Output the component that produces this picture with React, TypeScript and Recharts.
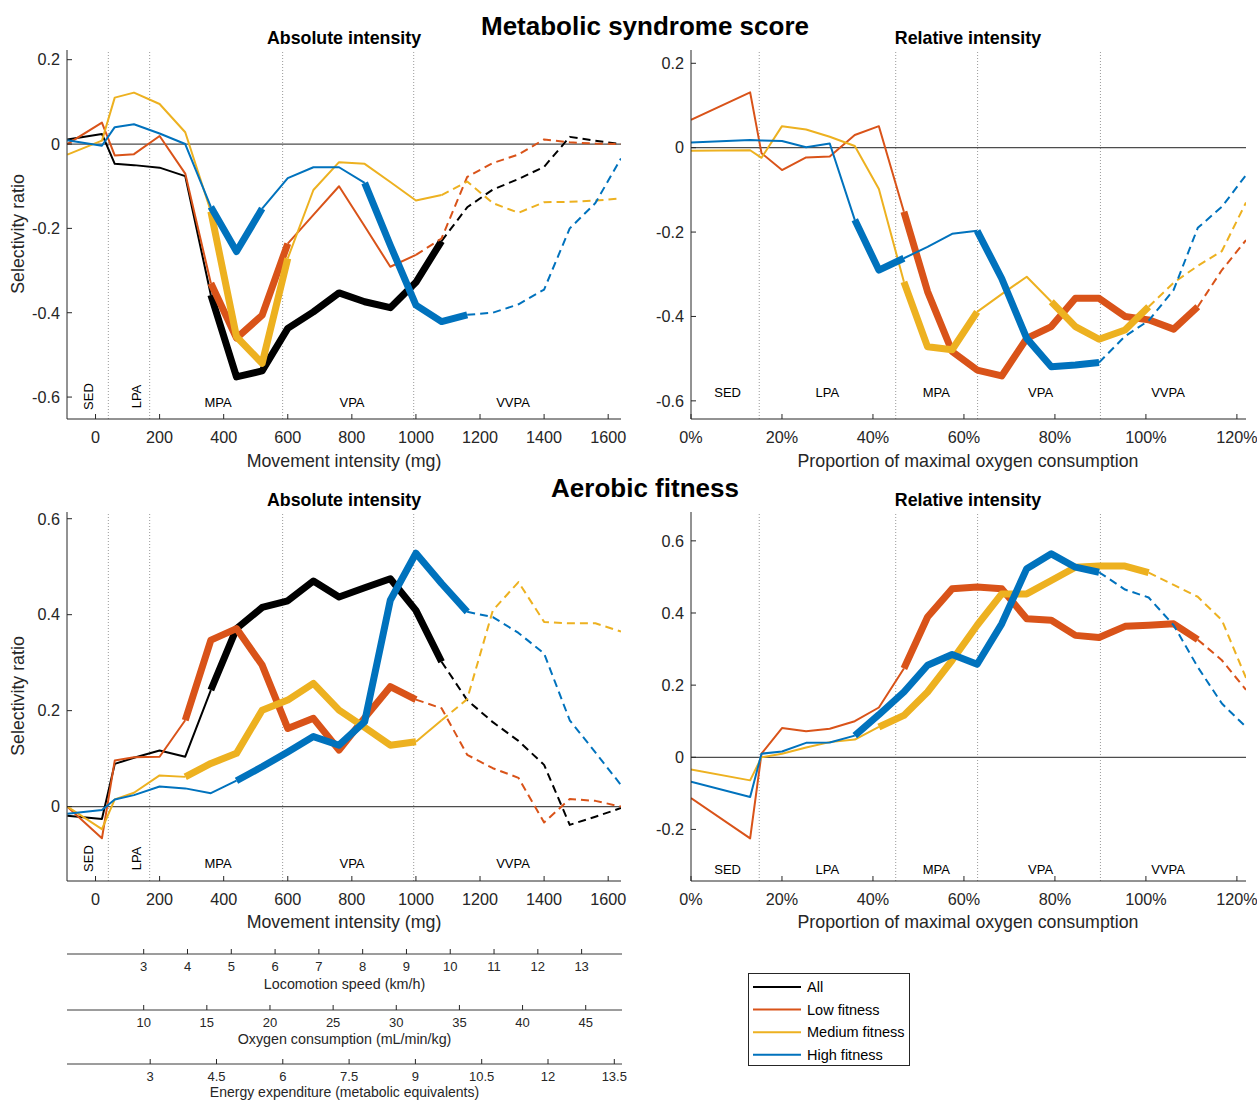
import React from 'react';
import { LineChart, Line, XAxis, YAxis, ReferenceLine } from 'recharts';

const FONT = '"Liberation Sans", Arial, Helvetica, sans-serif';
const AX = '#262626';
const C_ALL = '#000000';
const C_LOW = '#D95319';
const C_MED = '#EDB120';
const C_HIGH = '#0072BD';

// ---------- x grids ----------
const X_ABS = [-88, 20, 60, 120, 200, 280, 360, 440, 520, 600, 680, 760, 840, 920, 1000, 1080, 1160, 1240, 1320, 1400, 1480, 1560, 1640];
const X_REL = [0, 13, 15.5, 20, 25.3, 30.5, 36, 41.3, 46.8, 52, 57.4, 62.9, 68.3, 73.8, 79.2, 84.5, 89.7, 95.4, 100.6, 106.1, 111.4, 116.7, 122];

// ---------- Metabolic syndrome score, absolute ----------
const METS_ABS_ALL = [0.011, 0.024, -0.047, -0.05, -0.056, -0.076, -0.358, -0.552, -0.538, -0.437, -0.398, -0.353, -0.374, -0.388, -0.328, -0.23, -0.15, -0.108, -0.083, -0.054, 0.017, 0.008, 0.0];
const METS_ABS_LOW = [0.0, 0.051, -0.027, -0.024, 0.019, -0.07, -0.33, -0.46, -0.406, -0.236, -0.168, -0.1, -0.195, -0.291, -0.263, -0.224, -0.078, -0.045, -0.025, 0.011, 0.004, 0.001, 0.0];
const METS_ABS_MED = [-0.025, 0.008, 0.11, 0.122, 0.095, 0.028, -0.16, -0.457, -0.52, -0.271, -0.109, -0.043, -0.047, -0.09, -0.134, -0.121, -0.089, -0.14, -0.163, -0.138, -0.137, -0.134, -0.129];
const METS_ABS_HIGH = [0.009, -0.004, 0.04, 0.047, 0.025, 0.0, -0.149, -0.255, -0.153, -0.081, -0.055, -0.055, -0.092, -0.24, -0.382, -0.421, -0.405, -0.4, -0.38, -0.345, -0.2, -0.14, -0.034];

// ---------- Metabolic syndrome score, relative ----------
const METS_REL_LOW = [0.066, 0.131, -0.013, -0.053, -0.023, -0.021, 0.03, 0.051, -0.152, -0.341, -0.483, -0.527, -0.541, -0.452, -0.424, -0.357, -0.357, -0.4, -0.408, -0.43, -0.377, -0.29, -0.219];
const METS_REL_MED = [-0.007, -0.006, -0.024, 0.051, 0.043, 0.026, 0.004, -0.098, -0.318, -0.472, -0.479, -0.389, -0.347, -0.306, -0.365, -0.424, -0.454, -0.432, -0.377, -0.32, -0.28, -0.245, -0.13];
const METS_REL_HIGH = [0.012, 0.018, 0.017, 0.016, 0.001, 0.01, -0.171, -0.29, -0.262, -0.235, -0.204, -0.197, -0.31, -0.452, -0.519, -0.515, -0.509, -0.447, -0.41, -0.337, -0.19, -0.14, -0.065];

// ---------- Aerobic fitness, absolute ----------
const FIT_ABS_ALL = [-0.019, -0.026, 0.089, 0.102, 0.117, 0.104, 0.243, 0.371, 0.415, 0.429, 0.47, 0.437, 0.456, 0.475, 0.409, 0.302, 0.222, 0.176, 0.137, 0.087, -0.038, -0.021, -0.003];
const FIT_ABS_LOW = [0.0, -0.066, 0.096, 0.103, 0.104, 0.18, 0.347, 0.371, 0.295, 0.163, 0.184, 0.118, 0.185, 0.25, 0.223, 0.205, 0.108, 0.08, 0.06, -0.033, 0.016, 0.012, 0.0];
const FIT_ABS_MED = [0.0, -0.047, 0.015, 0.029, 0.065, 0.062, 0.09, 0.111, 0.201, 0.222, 0.257, 0.201, 0.165, 0.128, 0.135, 0.18, 0.224, 0.409, 0.468, 0.385, 0.382, 0.382, 0.365];
const FIT_ABS_HIGH = [-0.015, -0.007, 0.015, 0.024, 0.042, 0.038, 0.028, 0.054, 0.083, 0.114, 0.146, 0.128, 0.177, 0.43, 0.528, 0.465, 0.406, 0.395, 0.362, 0.319, 0.18, 0.113, 0.045];

// ---------- Aerobic fitness, relative ----------
const FIT_REL_LOW = [-0.113, -0.225, 0.01, 0.081, 0.072, 0.079, 0.1, 0.138, 0.246, 0.389, 0.467, 0.472, 0.467, 0.384, 0.38, 0.338, 0.332, 0.363, 0.366, 0.37, 0.326, 0.269, 0.187];
const FIT_REL_MED = [-0.034, -0.064, 0.0, 0.01, 0.027, 0.042, 0.049, 0.084, 0.116, 0.181, 0.269, 0.366, 0.453, 0.453, 0.49, 0.527, 0.53, 0.53, 0.512, 0.478, 0.445, 0.38, 0.22];
const FIT_REL_HIGH = [-0.068, -0.11, 0.01, 0.016, 0.04, 0.041, 0.06, 0.118, 0.181, 0.255, 0.285, 0.258, 0.37, 0.523, 0.564, 0.527, 0.513, 0.465, 0.443, 0.366, 0.25, 0.149, 0.084];

// ---------- ticks, cutpoints, labels ----------
const ABS_X_TICKS = [0, 200, 400, 600, 800, 1000, 1200, 1400, 1600];
const REL_X_TICKS = [0, 20, 40, 60, 80, 100, 120];
const METS_Y_TICKS = [-0.6, -0.4, -0.2, 0, 0.2];
const FIT_ABS_Y_TICKS = [0, 0.2, 0.4, 0.6];
const FIT_REL_Y_TICKS = [-0.2, 0, 0.2, 0.4, 0.6];
const ABS_CUTS = [40, 169, 584, 993];
const REL_CUTS = [15, 45, 63, 90];
const REGIONS = ['SED', 'LPA', 'MPA', 'VPA', 'VVPA'];
const SPEED_TICKS = [3, 4, 5, 6, 7, 8, 9, 10, 11, 12, 13];
const VO2_TICKS = [10, 15, 20, 25, 30, 35, 40, 45];
const MET_TICKS = [3, 4.5, 6, 7.5, 9, 10.5, 12, 13.5];
const LEGEND_LABELS = ['All', 'Low fitness', 'Medium fitness', 'High fitness'];
const LEGEND_COLORS = [C_ALL, C_LOW, C_MED, C_HIGH];

// ---------- segment styles (index ranges) ----------
type Kind = 'thin' | 'thick' | 'dash';
type Run = [Kind, number, number];
const R_METS_ABS_ALL: Run[] = [['thin', 0, 6], ['thick', 6, 15], ['dash', 15, 22]];
const R_METS_ABS_LOW: Run[] = [['thin', 0, 6], ['thick', 6, 9], ['thin', 9, 14], ['dash', 14, 22]];
const R_METS_ABS_MED: Run[] = [['thin', 0, 6], ['thick', 6, 9], ['thin', 9, 15], ['dash', 15, 22]];
const R_METS_ABS_HIGH: Run[] = [['thin', 0, 6], ['thick', 6, 8], ['thin', 8, 12], ['thick', 12, 16], ['dash', 16, 22]];
const R_METS_REL_LOW: Run[] = [['thin', 0, 8], ['thick', 8, 20], ['dash', 20, 22]];
const R_METS_REL_MED: Run[] = [['thin', 0, 8], ['thick', 8, 11], ['thin', 11, 14], ['thick', 14, 18], ['dash', 18, 22]];
const R_METS_REL_HIGH: Run[] = [['thin', 0, 6], ['thick', 6, 8], ['thin', 8, 11], ['thick', 11, 16], ['dash', 16, 22]];
const R_FIT_ABS_ALL: Run[] = [['thin', 0, 6], ['thick', 6, 15], ['dash', 15, 22]];
const R_FIT_ABS_LOW: Run[] = [['thin', 0, 5], ['thick', 5, 14], ['dash', 14, 22]];
const R_FIT_ABS_MED: Run[] = [['thin', 0, 5], ['thick', 5, 14], ['thin', 14, 15], ['dash', 15, 22]];
const R_FIT_ABS_HIGH: Run[] = [['thin', 0, 7], ['thick', 7, 16], ['dash', 16, 22]];
const R_FIT_REL_LOW: Run[] = [['thin', 0, 8], ['thick', 8, 20], ['dash', 20, 22]];
const R_FIT_REL_MED: Run[] = [['thin', 0, 7], ['thick', 7, 18], ['dash', 18, 22]];
const R_FIT_REL_HIGH: Run[] = [['thin', 0, 6], ['thick', 6, 16], ['dash', 16, 22]];

interface Series { key: string; color: string; values: number[]; runs: Run[] }

function buildRows(xs: number[], series: Series[]) {
  return xs.map((x, i) => {
    const row: Record<string, number | null> = { x };
    series.forEach((s) => {
      s.runs.forEach((r, j) => {
        row[`${s.key}_${j}`] = i >= r[1] && i <= r[2] ? s.values[i] : null;
      });
    });
    return row;
  });
}

const fmtY = (v: number) => (Math.abs(v) < 1e-9 ? '0' : v.toFixed(1));
const fmtAbs = (v: number) => String(v);
const fmtRel = (v: number) => `${v}%`;

const XTick = (props: any) => {
  const { x, y, payload, fmt } = props;
  return (
    <g>
      <line x1={x} x2={x} y1={y} y2={y - 5} stroke={AX} strokeWidth={1} />
      <text x={x} y={y + 24} textAnchor="middle" fontSize={16.2} fontFamily={FONT} fill={AX}>
        {fmt(payload.value)}
      </text>
    </g>
  );
};

const YTick = (props: any) => {
  const { x, y, payload } = props;
  return (
    <g>
      <line x1={x} x2={x + 5} y1={y} y2={y} stroke={AX} strokeWidth={1} />
      <text x={x - 7} y={y + 5.8} textAnchor="end" fontSize={16.2} fontFamily={FONT} fill={AX}>
        {fmtY(payload.value)}
      </text>
    </g>
  );
};

interface PanelCfg {
  left: number; top: number; width: number; height: number;
  pl: number; pr: number; pt: number; pb: number;
  xDomain: [number, number]; yDomain: [number, number];
  xTicks: number[]; yTicks: number[]; xFmt: (v: number) => string;
  cuts: number[]; xs: number[]; series: Series[];
}

function Panel({ cfg }: { cfg: PanelCfg }) {
  const YW = 60;
  const XH = 30;
  const rows = buildRows(cfg.xs, cfg.series);
  const margin = {
    top: cfg.pt - cfg.top,
    left: cfg.pl - cfg.left - YW,
    right: cfg.left + cfg.width - cfg.pr,
    bottom: cfg.top + cfg.height - cfg.pb - XH,
  };
  const lines: React.ReactNode[] = [];
  cfg.series.forEach((s) => {
    s.runs.forEach((r, j) => {
      const kind = r[0];
      lines.push(
        <Line
          key={`${s.key}_${j}`}
          dataKey={`${s.key}_${j}`}
          type="linear"
          stroke={s.color}
          strokeWidth={kind === 'thick' ? 7 : 2}
          strokeDasharray={kind === 'dash' ? '8 5' : undefined}
          strokeLinejoin="round"
          strokeLinecap="butt"
          dot={false}
          activeDot={false}
          connectNulls={false}
          isAnimationActive={false}
        />
      );
    });
  });
  return (
    <div style={{ position: 'absolute', left: cfg.left, top: cfg.top, width: cfg.width, height: cfg.height }}>
      <LineChart width={cfg.width} height={cfg.height} data={rows} margin={margin}>
        <XAxis
          dataKey="x"
          type="number"
          domain={cfg.xDomain}
          allowDataOverflow
          ticks={cfg.xTicks}
          interval={0}
          height={XH}
          tickSize={0}
          tickMargin={0}
          tickLine={false}
          axisLine={{ stroke: AX, strokeWidth: 1 }}
          tick={(p: any) => <XTick {...p} fmt={cfg.xFmt} />}
        />
        <YAxis
          type="number"
          domain={cfg.yDomain}
          allowDataOverflow
          ticks={cfg.yTicks}
          interval={0}
          width={YW}
          tickSize={0}
          tickMargin={0}
          tickLine={false}
          axisLine={{ stroke: AX, strokeWidth: 1 }}
          tick={(p: any) => <YTick {...p} />}
        />
        {cfg.cuts.map((c) => (
          <ReferenceLine key={`cut${c}`} x={c} stroke="#9a9a9a" strokeWidth={1} strokeDasharray="1 2" />
        ))}
        <ReferenceLine y={0} stroke="#4d4d4d" strokeWidth={1.3} />
        {lines}
      </LineChart>
    </div>
  );
}

const SecTick = (props: any) => {
  const { x, y, payload } = props;
  return (
    <g>
      <line x1={x} x2={x} y1={y} y2={y - 5} stroke={AX} strokeWidth={1} />
      <text x={x} y={y + 16.5} textAnchor="middle" fontSize={13} fontFamily={FONT} fill={AX}>
        {String(payload.value)}
      </text>
    </g>
  );
};

function SecondaryAxis({ axisY, domain, ticks }: { axisY: number; domain: [number, number]; ticks: number[] }) {
  const top = axisY - 10;
  const data = [{ v: domain[0], y: 0 }, { v: domain[1], y: 0 }];
  return (
    <div style={{ position: 'absolute', left: 0, top, width: 640, height: 40 }}>
      <LineChart width={640} height={40} data={data} margin={{ top: 5, left: 67, right: 18, bottom: 5 }}>
        <XAxis
          dataKey="v"
          type="number"
          domain={domain}
          allowDataOverflow
          ticks={ticks}
          interval={0}
          height={25}
          tickSize={0}
          tickMargin={0}
          tickLine={false}
          axisLine={{ stroke: '#3a3a3a', strokeWidth: 1 }}
          tick={(p: any) => <SecTick {...p} />}
        />
        <YAxis hide width={0} domain={[0, 1]} />
        <Line dataKey="y" stroke="none" dot={false} activeDot={false} isAnimationActive={false} />
      </LineChart>
    </div>
  );
}

const ABS_DOMAIN: [number, number] = [-89, 1640];
const REL_DOMAIN: [number, number] = [0, 122];

const panels: PanelCfg[] = [
  {
    left: 0, top: 0, width: 640, height: 480, pl: 67, pr: 621, pt: 50, pb: 419,
    xDomain: ABS_DOMAIN, yDomain: [-0.652, 0.223], xTicks: ABS_X_TICKS, yTicks: METS_Y_TICKS, xFmt: fmtAbs,
    cuts: ABS_CUTS, xs: X_ABS,
    series: [
      { key: 'all', color: C_ALL, values: METS_ABS_ALL, runs: R_METS_ABS_ALL },
      { key: 'low', color: C_LOW, values: METS_ABS_LOW, runs: R_METS_ABS_LOW },
      { key: 'med', color: C_MED, values: METS_ABS_MED, runs: R_METS_ABS_MED },
      { key: 'high', color: C_HIGH, values: METS_ABS_HIGH, runs: R_METS_ABS_HIGH },
    ],
  },
  {
    left: 630, top: 0, width: 627, height: 480, pl: 691, pr: 1246, pt: 50, pb: 419,
    xDomain: REL_DOMAIN, yDomain: [-0.643, 0.2315], xTicks: REL_X_TICKS, yTicks: METS_Y_TICKS, xFmt: fmtRel,
    cuts: REL_CUTS, xs: X_REL,
    series: [
      { key: 'low', color: C_LOW, values: METS_REL_LOW, runs: R_METS_REL_LOW },
      { key: 'med', color: C_MED, values: METS_REL_MED, runs: R_METS_REL_MED },
      { key: 'high', color: C_HIGH, values: METS_REL_HIGH, runs: R_METS_REL_HIGH },
    ],
  },
  {
    left: 0, top: 470, width: 640, height: 480, pl: 67, pr: 621, pt: 512, pb: 881,
    xDomain: ABS_DOMAIN, yDomain: [-0.155, 0.614], xTicks: ABS_X_TICKS, yTicks: FIT_ABS_Y_TICKS, xFmt: fmtAbs,
    cuts: ABS_CUTS, xs: X_ABS,
    series: [
      { key: 'all', color: C_ALL, values: FIT_ABS_ALL, runs: R_FIT_ABS_ALL },
      { key: 'low', color: C_LOW, values: FIT_ABS_LOW, runs: R_FIT_ABS_LOW },
      { key: 'med', color: C_MED, values: FIT_ABS_MED, runs: R_FIT_ABS_MED },
      { key: 'high', color: C_HIGH, values: FIT_ABS_HIGH, runs: R_FIT_ABS_HIGH },
    ],
  },
  {
    left: 630, top: 470, width: 627, height: 480, pl: 691, pr: 1246, pt: 512, pb: 881,
    xDomain: REL_DOMAIN, yDomain: [-0.343, 0.68], xTicks: REL_X_TICKS, yTicks: FIT_REL_Y_TICKS, xFmt: fmtRel,
    cuts: REL_CUTS, xs: X_REL,
    series: [
      { key: 'low', color: C_LOW, values: FIT_REL_LOW, runs: R_FIT_REL_LOW },
      { key: 'med', color: C_MED, values: FIT_REL_MED, runs: R_FIT_REL_MED },
      { key: 'high', color: C_HIGH, values: FIT_REL_HIGH, runs: R_FIT_REL_HIGH },
    ],
  },
];

// region-label anchor positions (pixels)
const ABS_REGION_POS = [[93, 'r'], [140.5, 'r'], [218, 'h'], [352, 'h'], [513, 'h']] as const;
const REL_REGION_X = [727.6, 827.4, 936.4, 1040.6, 1168];

function Overlay() {
  const t = (x: number, y: number, s: string, size: number, bold = false, extra: any = {}) => (
    <text x={x} y={y} textAnchor="middle" fontSize={size} fontWeight={bold ? 'bold' : 'normal'} fontFamily={FONT} fill={bold ? '#000' : AX} {...extra}>
      {s}
    </text>
  );
  const absRegions = (midY: number, baseY: number) =>
    REGIONS.map((r, i) => {
      const [x, kind] = ABS_REGION_POS[i];
      return kind === 'r' ? (
        <text key={r + midY} x={x} y={midY} transform={`rotate(-90 ${x} ${midY})`} textAnchor="middle" fontSize={13} fontFamily={FONT} fill="#000">{r}</text>
      ) : (
        <text key={r + midY} x={x} y={baseY} textAnchor="middle" fontSize={13} fontFamily={FONT} fill="#000">{r}</text>
      );
    });
  const relRegions = (baseY: number) =>
    REGIONS.map((r, i) => (
      <text key={r + baseY} x={REL_REGION_X[i]} y={baseY} textAnchor="middle" fontSize={13} fontFamily={FONT} fill="#000">{r}</text>
    ));
  return (
    <svg width={1257} height={1100} style={{ position: 'absolute', left: 0, top: 0, pointerEvents: 'none' }}>
      {t(645, 35.3, 'Metabolic syndrome score', 26, true)}
      {t(344, 44.4, 'Absolute intensity', 17.8, true)}
      {t(968, 44.4, 'Relative intensity', 17.8, true)}
      {t(645, 497.3, 'Aerobic fitness', 26, true)}
      {t(344, 506.4, 'Absolute intensity', 17.8, true)}
      {t(968, 506.4, 'Relative intensity', 17.8, true)}
      {t(344, 467, 'Movement intensity (mg)', 17.8)}
      {t(968, 467, 'Proportion of maximal oxygen consumption', 17.8)}
      {t(344, 928, 'Movement intensity (mg)', 17.8)}
      {t(968, 928, 'Proportion of maximal oxygen consumption', 17.8)}
      {t(24, 234, 'Selectivity ratio', 17.8, false, { transform: 'rotate(-90 24 234)' })}
      {t(24, 696, 'Selectivity ratio', 17.8, false, { transform: 'rotate(-90 24 696)' })}
      {absRegions(396.5, 406.5)}
      {absRegions(858.5, 868)}
      {relRegions(397)}
      {relRegions(874)}
      {t(344.5, 989, 'Locomotion speed (km/h)', 14.3)}
      {t(344.5, 1044, 'Oxygen consumption (mL/min/kg)', 14.3)}
      {t(344.5, 1096.5, 'Energy expenditure (metabolic equivalents)', 14)}
      <rect x={748.5} y={973.5} width={161} height={92} fill="#fff" stroke={AX} strokeWidth={1} />
      {LEGEND_LABELS.map((l, i) => (
        <g key={l}>
          <line x1={753} x2={801} y1={987 + i * 22.6} y2={987 + i * 22.6} stroke={LEGEND_COLORS[i]} strokeWidth={2} />
          <text x={807} y={992.2 + i * 22.6} fontSize={14.5} fontFamily={FONT} fill="#000">{l}</text>
        </g>
      ))}
    </svg>
  );
}

export default function App() {
  return (
    <div style={{ position: 'absolute', left: 0, top: 0, width: 1257, height: 1100, background: '#fff', overflow: 'hidden', fontFamily: FONT }}>
      {panels.map((p, i) => (
        <Panel key={i} cfg={p} />
      ))}
      <SecondaryAxis axisY={954.3} domain={[1.2485, 13.922]} ticks={SPEED_TICKS} />
      <SecondaryAxis axisY={1010} domain={[3.927, 47.874]} ticks={VO2_TICKS} />
      <SecondaryAxis axisY={1063.5} domain={[1.118, 13.674]} ticks={MET_TICKS} />
      <Overlay />
    </div>
  );
}
